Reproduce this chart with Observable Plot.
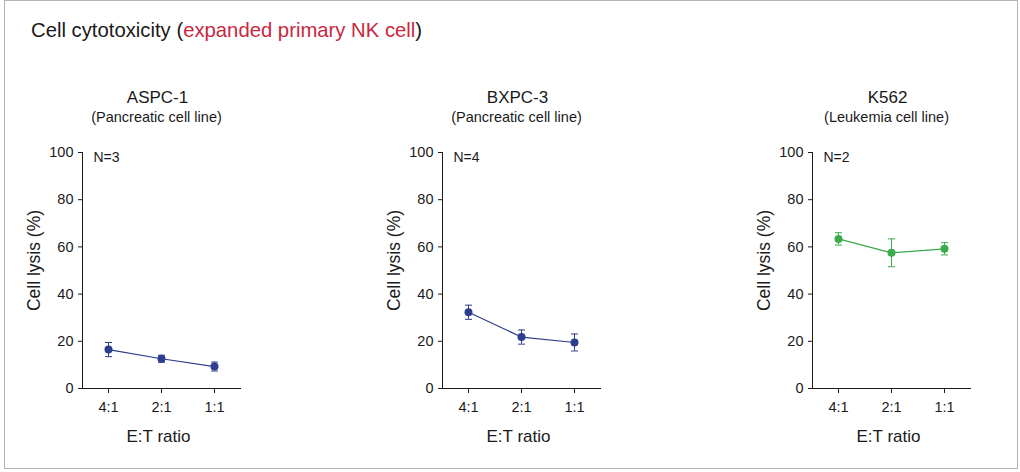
<!DOCTYPE html>
<html>
<head>
<meta charset="utf-8">
<script src="https://cdn.jsdelivr.net/npm/d3@7"></script>
<script src="https://cdn.jsdelivr.net/npm/@observablehq/plot@0.6"></script>
<style>
  html, body { margin: 0; padding: 0; background: #fff; }
  #root { position: relative; width: 1020px; height: 472px; font-family: "Liberation Sans", Arial, Helvetica, sans-serif; color: #1a1a1a; overflow: hidden; }
  #frame { position: absolute; left: 4px; top: 0px; width: 1012px; height: 467px; border: 1.5px solid #b4b4b4; }
  #title { position: absolute; left: 31px; top: 20px; font-size: 20.3px; line-height: 20px; white-space: nowrap; }
  #title .red { color: #c8283e; }
  .panel { position: absolute; top: 60px; }
</style>
</head>
<body>
<div id="root">
  <div id="frame"></div>
  <div id="title">Cell cytotoxicity (<span class="red">expanded primary NK cell</span>)</div>
</div>
<script>
const ratios = ["4:1", "2:1", "1:1"];
const yTicks = [0, 20, 40, 60, 80, 100];

const panelNames = ["ASPC-1", "BXPC-3", "K562"];
const panelSubtitles = ["(Pancreatic cell line)", "(Pancreatic cell line)", "(Leukemia cell line)"];
const panelN = ["N=3", "N=4", "N=2"];

const aspcMean = [16.5, 12.6, 9.3];
const aspcErr = [3.0, 1.5, 1.9];
const bxpcMean = [32.3, 21.8, 19.5];
const bxpcErr = [3.0, 3.0, 3.6];
const k562Mean = [63.4, 57.5, 59.2];
const k562Err = [2.6, 5.9, 2.6];

const blue = "#2e3e8e";
const green = "#3aaa4a";

const panels = [
  {means: aspcMean, errs: aspcErr, color: blue, axisX: 82},
  {means: bxpcMean, errs: bxpcErr, color: blue, axisX: 442},
  {means: k562Mean, errs: k562Err, color: green, axisX: 812}
];

const capSymbol = {
  draw(ctx, size) {
    const w = 3.5;
    ctx.moveTo(-w, 0);
    ctx.lineTo(w, 0);
  }
};

const root = document.getElementById("root");
const mL = 60, mR = 20, mT = 92, mB = 72, plotW = 158, plotH = 236;

panels.forEach((p, i) => {
  const rows = ratios.map((r, j) => ({
    ratio: r,
    mean: p.means[j],
    lo: p.means[j] - p.errs[j],
    hi: p.means[j] + p.errs[j]
  }));
  const chart = Plot.plot({
    width: mL + plotW + mR,
    height: mT + plotH + mB,
    marginLeft: mL, marginRight: mR, marginTop: mT, marginBottom: mB,
    style: {fontSize: "14.5px", fontFamily: "'Liberation Sans', Arial, Helvetica, sans-serif", color: "#1a1a1a", background: "transparent", overflow: "visible"},
    x: {type: "point", domain: ratios, padding: 0.47, label: null, tickSize: 5, tickPadding: 8},
    y: {domain: [0, 100], ticks: yTicks, tickSize: 4, tickPadding: 5, label: null},
    marks: [
      Plot.frame({anchor: "left", stroke: "#1a1a1a"}),
      Plot.frame({anchor: "bottom", stroke: "#1a1a1a"}),
      Plot.ruleX(rows, {x: "ratio", y1: "lo", y2: "hi", stroke: p.color, strokeWidth: 1}),
      Plot.dot(rows, {x: "ratio", y: "hi", symbol: capSymbol, r: 3, stroke: p.color, fill: "none", strokeWidth: 1}),
      Plot.dot(rows, {x: "ratio", y: "lo", symbol: capSymbol, r: 3, stroke: p.color, fill: "none", strokeWidth: 1}),
      Plot.line(rows, {x: "ratio", y: "mean", stroke: p.color, strokeWidth: 1.2}),
      Plot.dot(rows, {x: "ratio", y: "mean", r: 4, fill: p.color, stroke: "none"}),
      Plot.text([panelN[i]], {frameAnchor: "top-left", text: d => d, textAnchor: "start", lineAnchor: "middle", dx: 11, dy: 5, fontSize: 14}),
      Plot.text([panelNames[i]], {frameAnchor: "top", text: d => d, textAnchor: "middle", lineAnchor: "bottom", dx: -4, dy: -50, fontSize: 17}),
      Plot.text([panelSubtitles[i]], {frameAnchor: "top", text: d => d, textAnchor: "middle", lineAnchor: "bottom", dx: -5, dy: -31, fontSize: 14.5}),
      Plot.text(["Cell lysis (%)"], {frameAnchor: "left", text: d => d, rotate: -90, textAnchor: "middle", lineAnchor: "middle", dx: -48, dy: -10, fontSize: 17.5}),
      Plot.text(["E:T ratio"], {frameAnchor: "bottom", text: d => d, textAnchor: "middle", lineAnchor: "middle", dx: -3, dy: 48, fontSize: 17})
    ]
  });
  const wrap = document.createElement("div");
  wrap.className = "panel";
  wrap.style.left = (p.axisX - mL) + "px";
  wrap.appendChild(chart);
  root.appendChild(wrap);
});
</script>
</body>
</html>
